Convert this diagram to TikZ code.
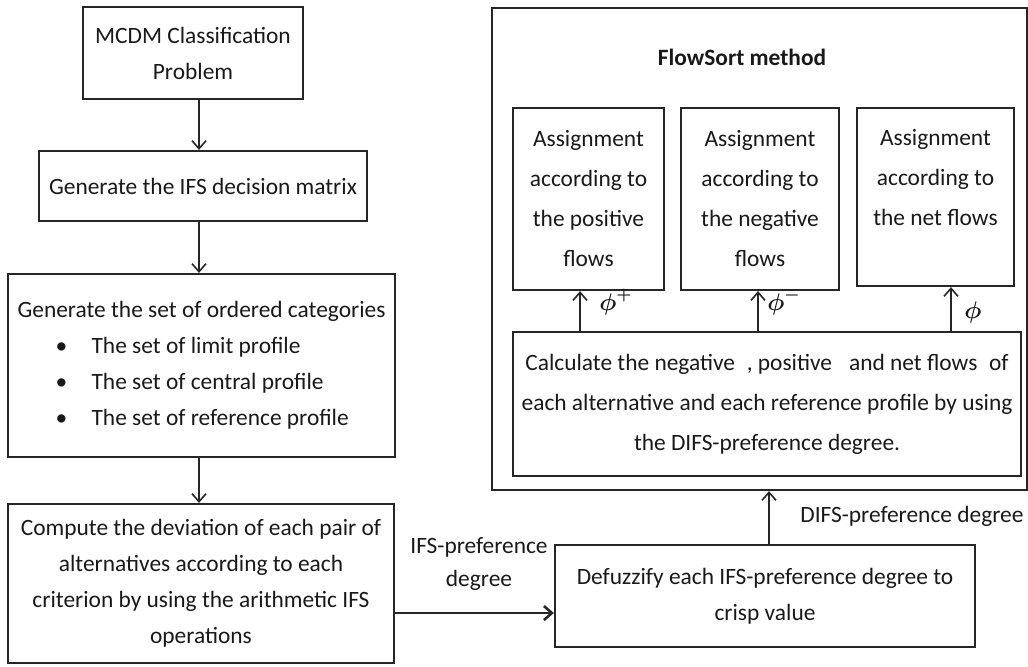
\documentclass[tikz,border=0pt]{standalone}
\usepackage{amsmath}
\usepackage{fontspec}
\setmainfont{Carlito}
\usetikzlibrary{arrows.meta}

\begin{document}
\begin{tikzpicture}[x=0.5pt,y=-0.5pt]
\tikzset{box/.style = {draw=black!85, line width=1.1pt, align=center, inner sep=0pt, text=black!90, font=\fontsize{11.7}{18}\selectfont},
	fsbox/.style = {box, font=\fontsize{11.7}{20}\selectfont},
	lbl/.style = {text=black!90, align=center, inner sep=0pt, font=\fontsize{11.7}{16.5}\selectfont},
	edge/.style = {-{Straight Barb[length=4pt,width=7pt]}, line width=0.8pt, draw=black!85}}
\useasboundingbox (0,0) rectangle (1028,666);
            % vertices
	\node[box, minimum width=110pt, minimum height=46pt] (prob) at (193,53) {MCDM Classification\\Problem};
	\node[box, minimum width=164pt, minimum height=35pt] (ifsmat) at (203,186) {Generate the IFS decision matrix};
	\node[box, align=left, minimum width=193.5pt, minimum height=91.5pt] (cats) at (201.5,365.5) {Generate the set of ordered categories\\
		\hspace*{19pt}\makebox[18pt][l]{\textbullet}The set of limit profile\\
		\hspace*{19pt}\makebox[18pt][l]{\textbullet}The set of central profile\\
		\hspace*{19pt}\makebox[18pt][l]{\textbullet}The set of reference profile};
	\node[box, minimum width=193pt, minimum height=79.5pt] (dev) at (201,583.5) {Compute the deviation of each pair of\\alternatives according to each\\criterion by using the arithmetic IFS\\operations};
	\node[box, minimum width=210pt, minimum height=51pt] (defuz) at (765,596) {Defuzzify each IFS-preference degree to\\crisp value};
	\node[box, minimum width=267.5pt, minimum height=241pt] (flowsort) at (759.5,249) {};
	\node[lbl, font=\fontsize{11.7}{16}\selectfont\bfseries] (fstitle) at (742,57) {FlowSort method};
	\node[fsbox, minimum width=75.5pt, minimum height=91pt] (asgpos) at (588.5,199) {Assignment\\according to\\the positive\\flows};
	\node[fsbox, minimum width=79pt, minimum height=91pt] (asgneg) at (760,199) {Assignment\\according to\\the negative\\flows};
	\node[fsbox, minimum width=78.5pt, minimum height=89pt] (asgnet) at (935.5,197) {Assignment\\according to\\the net flows\\~};
	\node[fsbox, minimum width=254pt, minimum height=72pt] (calc) at (767,404) {Calculate the negative\enspace, positive\enspace\ and net flows\enspace of\\each alternative and each reference profile by using\\the DIFS-preference degree.};
            % labels
	\node[lbl] (ifslbl) at (479,564) {IFS-preference\\degree};
	\node[lbl, anchor=west] (difslbl) at (800,516) {DIFS-preference degree};
	\node[lbl] (phipos) at (616,302) {$\boldsymbol{\phi}^{\boldsymbol{+}}$};
	\node[lbl] (phineg) at (784,302) {$\boldsymbol{\phi}^{\boldsymbol{-}}$};
	\node[lbl] (phinet) at (973,312) {$\boldsymbol{\phi}$};
	\coordinate (spine) at (199,0);
	\coordinate (flowrow) at (0,613);
	\coordinate (upcol) at (769,0);
	\coordinate (poscol) at (580,0);
	\coordinate (negcol) at (758,0);
	\coordinate (netcol) at (951,0);
            %edges
	\draw[edge] (prob.south -| spine) -- (ifsmat.north -| spine);
	\draw[edge] (ifsmat.south -| spine) -- (cats.north -| spine);
	\draw[edge] (cats.south -| spine) -- (dev.north -| spine);
	\draw[edge, line width=1.3pt] (dev.east |- flowrow) -- (defuz.west |- flowrow);
	\draw[edge] (defuz.north -| upcol) -- (flowsort.south -| upcol);
	\draw[edge] (calc.north -| poscol) -- (asgpos.south -| poscol);
	\draw[edge] (calc.north -| negcol) -- (asgneg.south -| negcol);
	\draw[edge] (calc.north -| netcol) -- (asgnet.south -| netcol);
\end{tikzpicture}
\end{document}
